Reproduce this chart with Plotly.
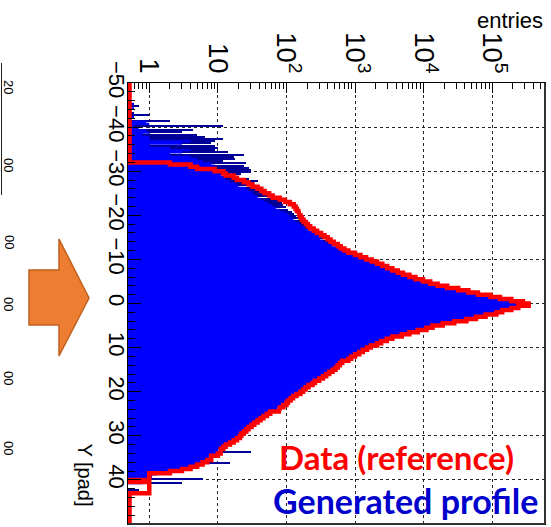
import numpy as np
import plotly.graph_objects as go

# ---------------- data (0.5 pad bins from -50 to 50) ----------------
bin_edges = np.linspace(-50, 50, 201)

data_ref = [
    0, 0, 0, 0, 0, 0, 0, 0, 0, 0,
    0, 0, 0, 0, 0, 0, 0, 0, 0, 0,
    0, 0, 0, 0, 0, 0, 0, 0, 0, 0,
    0, 0, 0, 0, 0, 0, 2, 4, 5, 9,
    12, 13, 17, 19, 24, 28, 32, 38, 43, 48,
    56, 63, 80, 95, 112, 128, 136, 142, 150, 154,
    160, 168, 178, 192, 205, 222, 250, 280, 320, 360,
    400, 440, 490, 560, 620, 700, 800, 1000, 1200, 1450,
    1750, 2100, 2500, 2950, 3500, 4200, 5000, 6200, 7600, 9800,
    12500, 16000, 22000, 32000, 45000, 62000, 95000, 130000, 190000, 280000,
    340000, 240000, 190000, 140000, 115000, 80000, 58000, 42000, 28000, 19000,
    13500, 11000, 8200, 6200, 4800, 3500, 2900, 2400, 2100, 1700,
    1500, 1300, 1150, 1000, 880, 800, 650, 600, 560, 520,
    470, 420, 380, 340, 300, 260, 240, 210, 190, 175,
    160, 140, 125, 115, 105, 100, 90, 80, 78, 58,
    52, 46, 42, 38, 34, 31, 28, 26, 24, 22,
    21, 19, 17, 15, 13, 12, 11, 11, 10, 8,
    8, 7, 6, 5, 4, 3, 2, 1, 1, 1,
    0, 1, 1, 1, 1, 1, 0, 0, 0, 0,
    0, 0, 0, 0, 0, 0, 0, 0, 0, 0,
]

gen_fill = [
    0, 0, 0, 0, 0, 0, 0, 0, 0, 0.6,
    0, 0.6, 0, 0.55, 0, 0.6, 0, 0.9, 1.0, 0.6,
    0.7, 0.9, 1.0, 0.8, 1.0, 1.0, 4, 3, 1.0, 2,
    4, 3, 2, 4, 5, 6, 8, 9, 8, 9,
    10, 11, 12, 13, 15, 18, 20, 25, 28, 31,
    34, 38, 42, 48, 55, 62, 70, 80, 95, 105,
    115, 125, 135, 150, 165, 185, 210, 240, 270, 300,
    310, 345, 390, 460, 575, 650, 745, 930, 1115, 1350,
    1630, 1950, 2330, 2740, 3250, 3900, 4650, 5770, 7070, 9100,
    11600, 14900, 20500, 29800, 41800, 57700, 88000, 121000, 177000, 260000,
    316000, 223000, 177000, 130000, 107000, 74400, 53900, 39000, 26000, 17700,
    12600, 10200, 7630, 5770, 4460, 3260, 2700, 2230, 1950, 1580,
    1400, 1210, 1070, 930, 820, 745, 605, 560, 520, 485,
    437, 390, 353, 316, 279, 242, 223, 195, 177, 163,
    149, 130, 116, 107, 98, 93, 84, 74, 72, 54,
    48, 43, 39, 35, 32, 29, 26, 24, 22, 20.5,
    19.5, 17.7, 15.8, 14, 12.1, 11.2, 10.2, 10.2, 9.3, 7.4,
    7.4, 6.5, 5.6, 4.6, 3.7, 2.8, 1.9, 1.3, 1.1, 1.0,
    1.0, 0.8, 0, 0, 0, 0, 0, 0, 0, 0,
    0, 0, 0, 0, 0, 0, 0, 0, 0, 0,
]

gen_line = [
    0, 0, 0, 0, 0, 0, 0, 0, 0, 0,
    0.7, 0, 0, 0.6, 1.0, 0, 0, 2.0, 1.0, 12,
    0, 4.3, 3, 5, 6.5, 12, 9, 8, 9, 10,
    9, 14, 24, 17, 18, 12, 26, 24, 28, 30,
    30, 22, 20, 28, 38, 34, 35, 40, 44, 45,
    50, 52, 62, 75, 85, 90, 100, 105, 120, 130,
    140, 150, 160, 175, 190, 205, 230, 262, 295, 330,
    370, 410, 460, 530, 0, 0, 0, 0, 0, 0,
    0, 0, 0, 0, 0, 0, 0, 0, 0, 0,
    0, 0, 0, 0, 0, 0, 0, 0, 0, 0,
    0, 0, 0, 0, 0, 0, 0, 0, 0, 0,
    0, 0, 0, 0, 0, 0, 0, 0, 0, 0,
    0, 0, 0, 0, 0, 0, 0, 0, 0, 0,
    0, 0, 0, 0, 0, 0, 0, 0, 0, 0,
    0, 0, 0, 0, 0, 0, 0, 0, 0, 0,
    0, 0, 0, 0, 0, 0, 0, 0, 0, 0,
    0, 0, 0, 0, 0, 0, 0, 30, 0, 0,
    0, 0, 15, 0, 0, 0, 0, 0, 0, 6,
    0, 3, 0, 0, 0.7, 0, 0, 0, 0, 0,
    0, 0, 0, 0, 0, 0, 0, 0, 0, 0,
]

left_axis_fragments = ["20", "00", "00", "00", "00", "00"]
left_fragment_py = [87, 165, 242, 304, 378, 448]

# ---------------- geometry / style ----------------
W, H = 551, 527
L, R, T, B = 128, 545, 83, 524
XLOG_RANGE = [-0.31, 5.77]
floor_val = 10 ** (XLOG_RANGE[0] + 0.022)   # empty bins drawn at the frame edge

RED = "#ff0000"
BLUE = "#0000ff"
NAVY = "#000099"
FONT = "Liberation Sans"


def px2x(px):
    return (px - L) / (R - L)


def py2y(py):
    return (B - py) / (B - T)


d_arr = np.array(data_ref, dtype=float)
g_arr = np.array(gen_fill, dtype=float)
n_arr = np.array(gen_line, dtype=float)
centers = 0.5 * (bin_edges[:-1] + bin_edges[1:])

ys_step = np.column_stack([bin_edges[:-1], bin_edges[1:]]).ravel()
d_draw = np.where(d_arr > 0, d_arr, floor_val)
g_draw = np.where(g_arr > 0, g_arr, 10 ** XLOG_RANGE[0])

fig = go.Figure()

# navy profile lines (bar layer, under the fill)
fig.add_trace(go.Bar(
    orientation="h", y=centers,
    x=[v if v > 0 else None for v in n_arr],
    width=0.3, marker=dict(color=NAVY, line=dict(width=0)),
    showlegend=False, hoverinfo="skip",
))

# generated profile fill
gx = np.concatenate([[10 ** XLOG_RANGE[0]], np.repeat(g_draw, 2), [10 ** XLOG_RANGE[0]]])
gy = np.concatenate([[bin_edges[0]], ys_step, [bin_edges[-1]]])
fig.add_trace(go.Scatter(
    x=gx, y=gy, mode="lines", fill="toself", fillcolor=BLUE,
    line=dict(width=0, color=BLUE), showlegend=False, hoverinfo="skip",
))

# data reference outline
fig.add_trace(go.Scatter(
    x=np.repeat(d_draw, 2), y=ys_step, mode="lines",
    line=dict(color=RED, width=4.5), showlegend=False, hoverinfo="skip",
))

fig.update_layout(
    width=W, height=H,
    margin=dict(l=L, r=W - R, t=T, b=H - B, pad=0),
    paper_bgcolor="white", plot_bgcolor="white",
    bargap=0, barmode="overlay",
    font=dict(family=FONT, color="black", size=22),
    xaxis=dict(
        type="log", range=XLOG_RANGE, side="top", dtick=1,
        exponentformat="power", tickangle=90,
        ticks="inside", ticklen=10, tickwidth=1, tickcolor="black",
        showline=True, linecolor="black", linewidth=1, mirror=True,
        showgrid=True, gridcolor="#222222", griddash="dot", gridwidth=1,
        minor=dict(ticks="inside", ticklen=6, dtick="D1", tickcolor="black", showgrid=False),
        tickfont=dict(family=FONT, size=22, color="black"),
        zeroline=False,
    ),
    yaxis=dict(
        range=[50, -50], tick0=0, dtick=10, tickangle=90,
        ticks="inside", ticklen=13, tickwidth=1, tickcolor="black",
        showline=True, linecolor="black", linewidth=1, mirror=True,
        showgrid=True, gridcolor="#222222", griddash="dot", gridwidth=1,
        minor=dict(ticks="inside", ticklen=7, dtick=2, tickcolor="black", showgrid=False),
        tickfont=dict(family=FONT, size=22, color="black"),
        ticklabelstandoff=-8,
        zeroline=False,
    ),
)

annotations = [
    dict(text="entries", x=px2x(545), y=py2y(20), xref="paper", yref="paper",
         xanchor="right", yanchor="middle", showarrow=False,
         font=dict(family=FONT, size=22, color="black")),
    dict(text="Y [pad]", x=px2x(85), y=py2y(441), xref="paper", yref="paper",
         xanchor="center", yanchor="top", textangle=90, showarrow=False,
         font=dict(family=FONT, size=20, color="black")),
    dict(text="<b>Data (reference)</b>", x=px2x(396), y=py2y(457), xref="paper", yref="paper",
         xanchor="center", yanchor="middle", showarrow=False,
         font=dict(family="Lato", size=33, color=RED)),
    dict(text="<b>Generated profile</b>", x=px2x(405), y=py2y(500), xref="paper", yref="paper",
         xanchor="center", yanchor="middle", showarrow=False,
         font=dict(family="Lato", size=34, color="#0000cc")),
]
for txt, py in zip(left_axis_fragments, left_fragment_py):
    annotations.append(dict(
        text=txt, x=px2x(9), y=py2y(py), xref="paper", yref="paper",
        xanchor="center", yanchor="middle", textangle=90, showarrow=False,
        font=dict(family=FONT, size=13, color="black")))
fig.update_layout(annotations=annotations)

# orange block arrow and the edge of the neighbouring frame
arrow_pts = [(29, 270), (59, 270), (59, 239), (89, 298), (59, 356), (59, 325), (29, 325)]
path = "M " + " L ".join(f"{px2x(a):.5f},{py2y(b):.5f}" for a, b in arrow_pts) + " Z"
fig.add_shape(type="path", path=path, xref="paper", yref="paper",
              fillcolor="#ed7d31", line=dict(color="#c0601f", width=1.5), layer="above")
fig.add_shape(type="line", xref="paper", yref="paper",
              x0=px2x(1.5), x1=px2x(1.5), y0=py2y(63), y1=py2y(195),
              line=dict(color="#222222", width=1))
# slightly heavier right/bottom frame edges
fig.add_shape(type="line", xref="paper", yref="paper", x0=1, x1=1, y0=0, y1=1,
              line=dict(color="#333333", width=2), layer="above")
fig.add_shape(type="line", xref="paper", yref="paper", x0=0, x1=1, y0=0, y1=0,
              line=dict(color="#333333", width=2), layer="above")

fig.write_html("out.html")
